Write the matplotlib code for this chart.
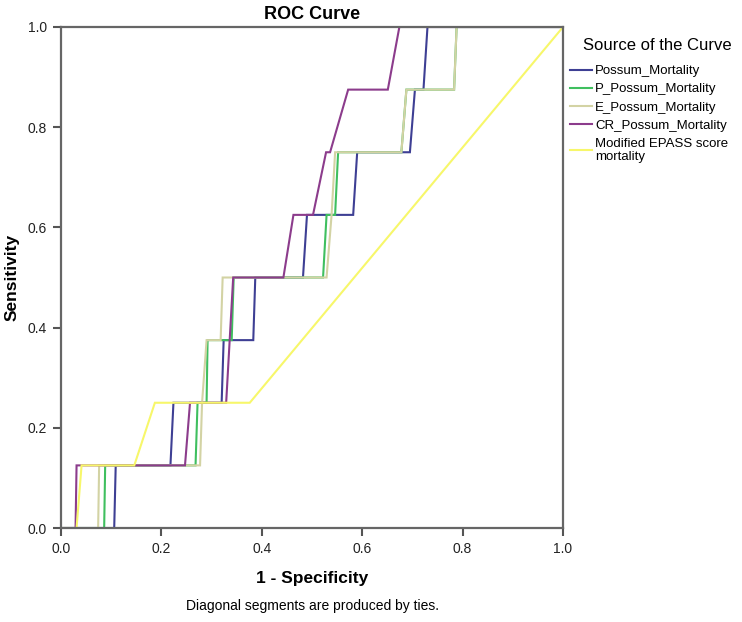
import matplotlib
matplotlib.use("Agg")
import matplotlib.pyplot as plt

plt.rcParams["font.family"] = ["Liberation Sans", "DejaVu Sans"]

# ROC points (1 - specificity, sensitivity)
possum_x = [0, 0.106, 0.109, 0.218, 0.224, 0.320, 0.324, 0.383, 0.387, 0.482, 0.490,
            0.582, 0.590, 0.695, 0.705, 0.722, 0.730, 1.0]
possum_y = [0, 0, 0.125, 0.125, 0.25, 0.25, 0.375, 0.375, 0.5, 0.5, 0.625,
            0.625, 0.75, 0.75, 0.875, 0.875, 1.0, 1.0]

p_possum_x = [0, 0.086, 0.088, 0.268, 0.272, 0.290, 0.292, 0.340, 0.344, 0.522, 0.529,
              0.546, 0.552, 0.678, 0.688, 0.783, 0.788, 1.0]
p_possum_y = [0, 0, 0.125, 0.125, 0.25, 0.25, 0.375, 0.375, 0.5, 0.5, 0.625,
              0.625, 0.75, 0.75, 0.875, 0.875, 1.0, 1.0]

e_possum_x = [0, 0.074, 0.076, 0.277, 0.281, 0.290, 0.318, 0.322, 0.529, 0.539, 0.546,
              0.678, 0.688, 0.783, 0.788, 1.0]
e_possum_y = [0, 0, 0.125, 0.125, 0.25, 0.375, 0.375, 0.5, 0.5, 0.625, 0.75,
              0.75, 0.875, 0.875, 1.0, 1.0]

cr_possum_x = [0, 0.029, 0.031, 0.247, 0.257, 0.329, 0.343, 0.443, 0.463, 0.502, 0.528,
               0.536, 0.572, 0.651, 0.674, 1.0]
cr_possum_y = [0, 0, 0.125, 0.125, 0.25, 0.25, 0.5, 0.5, 0.625, 0.625, 0.75,
               0.75, 0.875, 0.875, 1.0, 1.0]

epass_x = [0, 0.031, 0.041, 0.146, 0.187, 0.376, 1.0]
epass_y = [0, 0, 0.125, 0.125, 0.25, 0.25, 1.0]

labels = ["Possum_Mortality", "P_Possum_Mortality", "E_Possum_Mortality",
          "CR_Possum_Mortality", "Modified EPASS score\nmortality"]
colors = ["#3e3f94", "#3fbf5f", "#d3d3a4", "#8c3c8c", "#f7f76a"]
ticks = [0.0, 0.2, 0.4, 0.6, 0.8, 1.0]

fig = plt.figure(figsize=(7.42, 6.22), dpi=100)
ax = fig.add_axes([0.0822, 0.1511, 0.6766, 0.8055])

series = [(possum_x, possum_y), (p_possum_x, p_possum_y), (e_possum_x, e_possum_y),
          (cr_possum_x, cr_possum_y), (epass_x, epass_y)]
for (xs, ys), c, lab in zip(series, colors, labels):
    ax.plot(xs, ys, color=c, lw=1.5, label=lab, solid_joinstyle="miter")

ax.set_xlim(0, 1)
ax.set_ylim(0, 1)
ax.set_xticks(ticks)
ax.set_yticks(ticks)
ax.set_xticklabels([f"{t:.1f}" for t in ticks])
ax.set_yticklabels([f"{t:.1f}" for t in ticks])
ax.tick_params(direction="out", length=6, width=1.5, color="#555555",
               labelsize=10, labelcolor="#222222", pad=4)
for s in ax.spines.values():
    s.set_color("#666666")
    s.set_linewidth(1.6)

ax.set_title("ROC Curve", fontsize=13, fontweight="bold", pad=6)
ax.set_xlabel("1 - Specificity", fontsize=12.5, fontweight="bold", labelpad=11)
ax.set_ylabel("Sensitivity", fontsize=12.5, fontweight="bold", labelpad=6)
fig.text(0.4205, 0.026, "Diagonal segments are produced by ties.", ha="center",
         va="center", fontsize=10)

# legend title sits a bit right of the handles, as in the original
fig.text(583 / 742, 1 - 45 / 622, "Source of the Curve", ha="left", va="center",
         fontsize=12)
ax.legend(loc="upper left", bbox_to_anchor=(570 / 742, 1 - 65 / 622),
          bbox_transform=fig.transFigure, frameon=False, fontsize=9.5,
          handlelength=1.7, handletextpad=0.2, labelspacing=0.45,
          borderaxespad=0, borderpad=0)

fig.savefig("out.png", dpi=100, facecolor="white")
